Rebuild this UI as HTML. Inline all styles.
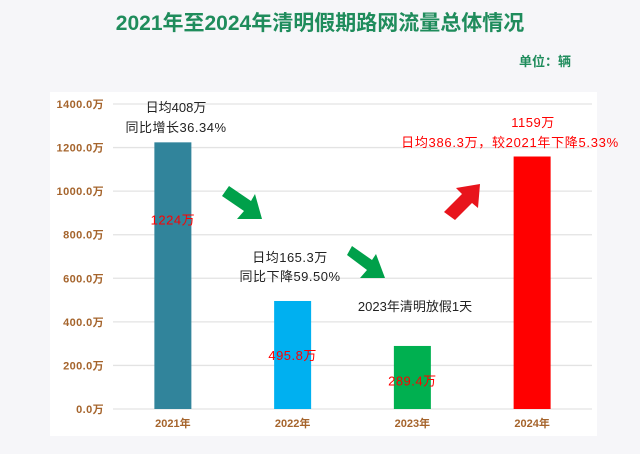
<!DOCTYPE html>
<html><head><meta charset="utf-8"><style>
body{margin:0;width:640px;height:449px;background:#f6f6f9;overflow:hidden;font-family:"Liberation Sans","Noto Sans CJK SC",sans-serif;}
</style></head><body>
<svg width="640" height="449" xmlns="http://www.w3.org/2000/svg" font-family="Liberation Sans, Noto Sans CJK SC, sans-serif">
<text x="320" y="30" text-anchor="middle" font-size="21" font-weight="bold" fill="#1f8c5c">2021年至2024年清明假期路网流量总体情况</text>
<text x="519" y="66" font-size="13" font-weight="bold" fill="#1f8c5c">单位：辆</text>
<rect x="50" y="92" width="547" height="344" fill="#fff"/>
<g id="grid"></g><g id="bars"></g><g id="labels"></g>
<polygon points="222,196 229,186 251,201 255,194 262,219 237,219 244,211" fill="#00a04a"/>
<polygon points="347,255 352,246 372,260 376,254 385,278 360,278 367,270" fill="#00a04a"/>
<polygon points="444,212 462,194 456,188 480,184 478,208 472,203 455,220" fill="#e8141c"/>
<g font-size="13" fill="#222">
<text x="176" y="112" text-anchor="middle">日均408万</text>
<text x="176" y="132" text-anchor="middle" letter-spacing="0.5">同比增长36.34%</text>
<text x="290" y="262" text-anchor="middle" letter-spacing="0.5">日均165.3万</text>
<text x="290" y="281" text-anchor="middle" letter-spacing="0.5">同比下降59.50%</text>
<text x="415" y="311" text-anchor="middle">2023年清明放假1天</text>
</g>
<g font-size="13" fill="#ff0000">
<text x="533" y="127" text-anchor="middle" letter-spacing="0.5">1159万</text>
<text x="510" y="147" text-anchor="middle" letter-spacing="0.7">日均386.3万，较2021年下降5.33%</text>
</g>
</svg>
<script>
const categories=["2021年","2022年","2023年","2024年"];
const values=[1224,495.8,289.4,1159];
const valueLabels=["1224万","495.8万","289.4万","1159万"];
const showValue=[true,true,true,false];
const labelFrac=[0.71,0.5,0.45,0.5];
const yTicks=[0,200,400,600,800,1000,1200,1400];
const colors=["#31849b","#00b0f0","#00b050","#ff0000"];
const NS="http://www.w3.org/2000/svg";
const x0=113,x1=592,y0=409,yTop=104,yMax=1400;
const yS=v=>y0-(v/yMax)*(y0-yTop);
const band=(x1-x0)/categories.length;
const xC=i=>x0+band*(i+0.5);
function mk(t,a,p){const e=document.createElementNS(NS,t);for(const k in a)e.setAttribute(k,a[k]);p.appendChild(e);return e;}
const g=document.getElementById('grid'),b=document.getElementById('bars'),l=document.getElementById('labels');
yTicks.forEach(v=>{
 const ln=mk('line',{x1:x0,x2:x1,y1:yS(v),y2:yS(v),stroke:'#e3e3e3','stroke-width':1.3},g);
 
 
 const t=mk('text',{x:104,y:yS(v)+4,'text-anchor':'end','font-size':11,'font-weight':'bold',fill:'#a5642c','letter-spacing':0.4},g);
 t.textContent=v.toFixed(1)+'万';
 
 
});
categories.forEach((c,i)=>{
 const w=37;
 const r=mk('rect',{x:xC(i)-w/2,y:yS(values[i]),width:w,height:y0-yS(values[i]),fill:colors[i]},b);
 
 
 const t=mk('text',{x:xC(i),y:427,'text-anchor':'middle','font-size':11,'font-weight':'bold',fill:'#a5642c'},l);
 t.textContent=c;
 
 
 if(showValue[i]){
  const v=mk('text',{x:xC(i),y:yS(values[i]*labelFrac[i])+5,'text-anchor':'middle','font-size':13,fill:'#ff0000','letter-spacing':0.5},l);
  v.textContent=valueLabels[i];
  
  
 }
});
</script>
</body></html>
